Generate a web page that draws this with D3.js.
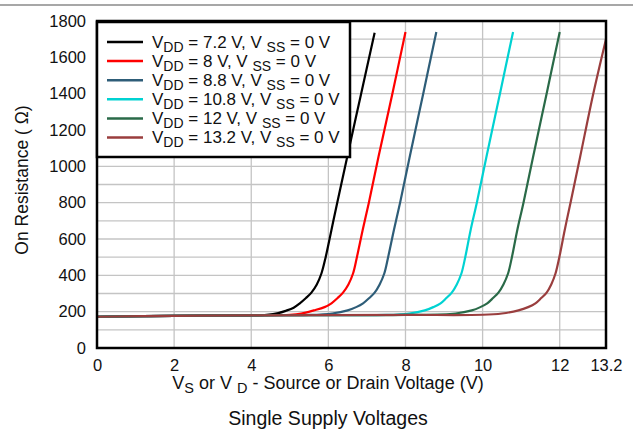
<!DOCTYPE html>
<html>
<head>
<meta charset="utf-8">
<script src="https://cdn.jsdelivr.net/npm/d3@7"></script>
<style>
  body { margin: 0; background: #fff; }
  svg { font-family: "Liberation Sans", Arial, sans-serif; }
</style>
</head>
<body>
<div id="chart"></div>
<script>
// curves, [V, ohm]
var vdd72 = [[0,172],[1,175],[2,177],[3,178],[4,180],[4.4,183],[4.7,192],[4.9,205],[5.1,222],[5.26,246],[5.42,275],[5.56,305],[5.7,350],[5.82,410],[5.93,500],[6.08,650],[6.23,800],[6.49,1053],[6.85,1400],[7.2,1735]];
var vdd8 = [[0,172],[2,177],[4,180],[5,183],[5.3,190],[5.62,207],[5.9,225],[6.08,246],[6.24,275],[6.38,305],[6.52,350],[6.64,410],[6.74,500],[6.89,650],[7.05,800],[7.3,1053],[7.66,1400],[8.0,1740]];
var vdd88 = [[0,172],[2,177],[4,180],[5.5,182],[6.1,190],[6.5,207],[6.72,225],[6.9,246],[7.06,275],[7.2,305],[7.33,350],[7.45,410],[7.55,500],[7.7,650],[7.86,800],[8.11,1053],[8.46,1400],[8.8,1740]];
var vdd108 = [[0,172],[2,177],[4,180],[6,181],[7.5,182],[8.1,190],[8.5,207],[8.72,225],[8.91,246],[9.06,275],[9.2,305],[9.33,350],[9.45,410],[9.55,500],[9.69,650],[9.85,800],[10.1,1053],[10.45,1400],[10.79,1740]];
var vdd12 = [[0,172],[2,177],[4,180],[8,182],[9.3,190],[9.72,207],[9.94,225],[10.12,246],[10.27,275],[10.41,305],[10.54,350],[10.66,410],[10.76,500],[10.9,650],[11.06,800],[11.31,1053],[11.66,1400],[12.0,1740]];
var vdd132 = [[0,172],[2,177],[4,180],[8,182],[10,183],[10.5,190],[10.93,207],[11.18,225],[11.37,246],[11.52,275],[11.66,305],[11.78,350],[11.89,410],[11.99,500],[12.13,650],[12.28,800],[12.53,1053],[12.87,1400],[13.2,1700]];

var vddLabels = ["7.2", "8", "8.8", "10.8", "12", "13.2"];
var xTicks = [0, 2, 4, 6, 8, 10, 12, 13.2];
var yTicks = [0, 200, 400, 600, 800, 1000, 1200, 1400, 1600, 1800];

var series = [vdd72, vdd8, vdd88, vdd108, vdd12, vdd132];
var colors = ["#000000", "#ff0000", "#2e5d78", "#00d2d2", "#2a6a48", "#9a3e3e"];

var margin = {top: 21, right: 27, bottom: 92, left: 97}
  , width = 633 - margin.left - margin.right
  , height = 440 - margin.top - margin.bottom;

var svg = d3.select("#chart").append("svg")
    .attr("width", 633)
    .attr("height", 440);

// thin rule across the top of the page
svg.append("line")
    .attr("x1", 0).attr("x2", 633)
    .attr("y1", 5).attr("y2", 5)
    .attr("stroke", "#8a8a8a")
    .attr("stroke-width", 1.5);

var g = svg.append("g")
    .attr("transform", "translate(" + margin.left + "," + margin.top + ")");

var x = d3.scaleLinear().domain([0, 13.2]).range([0, width]);
var y = d3.scaleLinear().domain([0, 1800]).range([height, 0]);

// grid
g.append("g")
    .selectAll("line")
    .data(d3.range(100, 1800, 100))
  .enter().append("line")
    .attr("x1", 0).attr("x2", width)
    .attr("y1", function(d) { return y(d); })
    .attr("y2", function(d) { return y(d); })
    .attr("stroke", "#c4c4c4")
    .attr("stroke-width", 1.3);

g.append("g")
    .selectAll("line")
    .data([2, 4, 6, 8, 10, 12])
  .enter().append("line")
    .attr("y1", 0).attr("y2", height)
    .attr("x1", function(d) { return x(d); })
    .attr("x2", function(d) { return x(d); })
    .attr("stroke", "#c4c4c4")
    .attr("stroke-width", 1.3);

// axes, labels only
var xAxis = g.append("g")
    .attr("transform", "translate(0," + height + ")")
    .call(d3.axisBottom(x).tickValues(xTicks).tickSize(0).tickPadding(11)
      .tickFormat(function(d) { return d === 13.2 ? "13.2" : d; }));
var yAxis = g.append("g")
    .call(d3.axisLeft(y).tickValues(yTicks).tickSize(0).tickPadding(11)
      .tickFormat(d3.format("d")));
[xAxis, yAxis].forEach(function(a) {
  a.select(".domain").remove();
  a.selectAll("text").attr("font-size", 16.5).attr("fill", "#111")
    .attr("font-family", "Liberation Sans, Arial, sans-serif");
});

var line = d3.line()
    .x(function(d) { return x(d[0]); })
    .y(function(d) { return y(d[1]); })
    .curve(d3.curveCatmullRom);

series.forEach(function(s, i) {
  g.append("path")
      .datum(s)
      .attr("fill", "none")
      .attr("stroke", colors[i])
      .attr("stroke-width", 2.2)
      .attr("d", line);
});

// plot frame
g.append("rect")
    .attr("width", width).attr("height", height)
    .attr("fill", "none")
    .attr("stroke", "#000")
    .attr("stroke-width", 2.5);

// legend
var leg = g.append("g");
leg.append("rect")
    .attr("x", 0).attr("y", 1)
    .attr("width", 253).attr("height", 135)
    .attr("fill", "#fff")
    .attr("stroke", "#000")
    .attr("stroke-width", 2.5);

vddLabels.forEach(function(v, i) {
  var yy = 21 + i * 19.1;
  leg.append("line")
      .attr("x1", 10).attr("x2", 46)
      .attr("y1", yy).attr("y2", yy)
      .attr("stroke", colors[i])
      .attr("stroke-width", 2.5);
  var t = leg.append("text")
      .attr("x", 55).attr("y", yy + 5.5)
      .attr("font-size", 17).attr("fill", "#111");
  t.append("tspan").text("V");
  t.append("tspan").attr("font-size", 14).attr("dy", 4).text("DD");
  t.append("tspan").attr("dy", -4).text(" = " + v + " V, V ");
  t.append("tspan").attr("font-size", 14).attr("dy", 4).text("SS");
  t.append("tspan").attr("dy", -4).text(" = 0 V");
});

// axis titles
svg.append("text")
    .attr("transform", "translate(28,180) rotate(-90)")
    .attr("text-anchor", "middle")
    .attr("font-size", 17.5)
    .attr("fill", "#111")
    .text("On Resistance (  \u03A9)");

var xt = svg.append("text")
    .attr("x", 328).attr("y", 389)
    .attr("text-anchor", "middle")
    .attr("font-size", 18)
    .attr("fill", "#111");
xt.append("tspan").text("V");
xt.append("tspan").attr("font-size", 14.5).attr("dy", 4).text("S");
xt.append("tspan").attr("dy", -4).text(" or V ");
xt.append("tspan").attr("font-size", 14.5).attr("dy", 4).text("D");
xt.append("tspan").attr("dy", -4).text(" - Source or Drain Voltage (V)");

svg.append("text")
    .attr("x", 328).attr("y", 425)
    .attr("text-anchor", "middle")
    .attr("font-size", 19.5)
    .attr("fill", "#111")
    .text("Single Supply Voltages");
</script>
</body>
</html>
